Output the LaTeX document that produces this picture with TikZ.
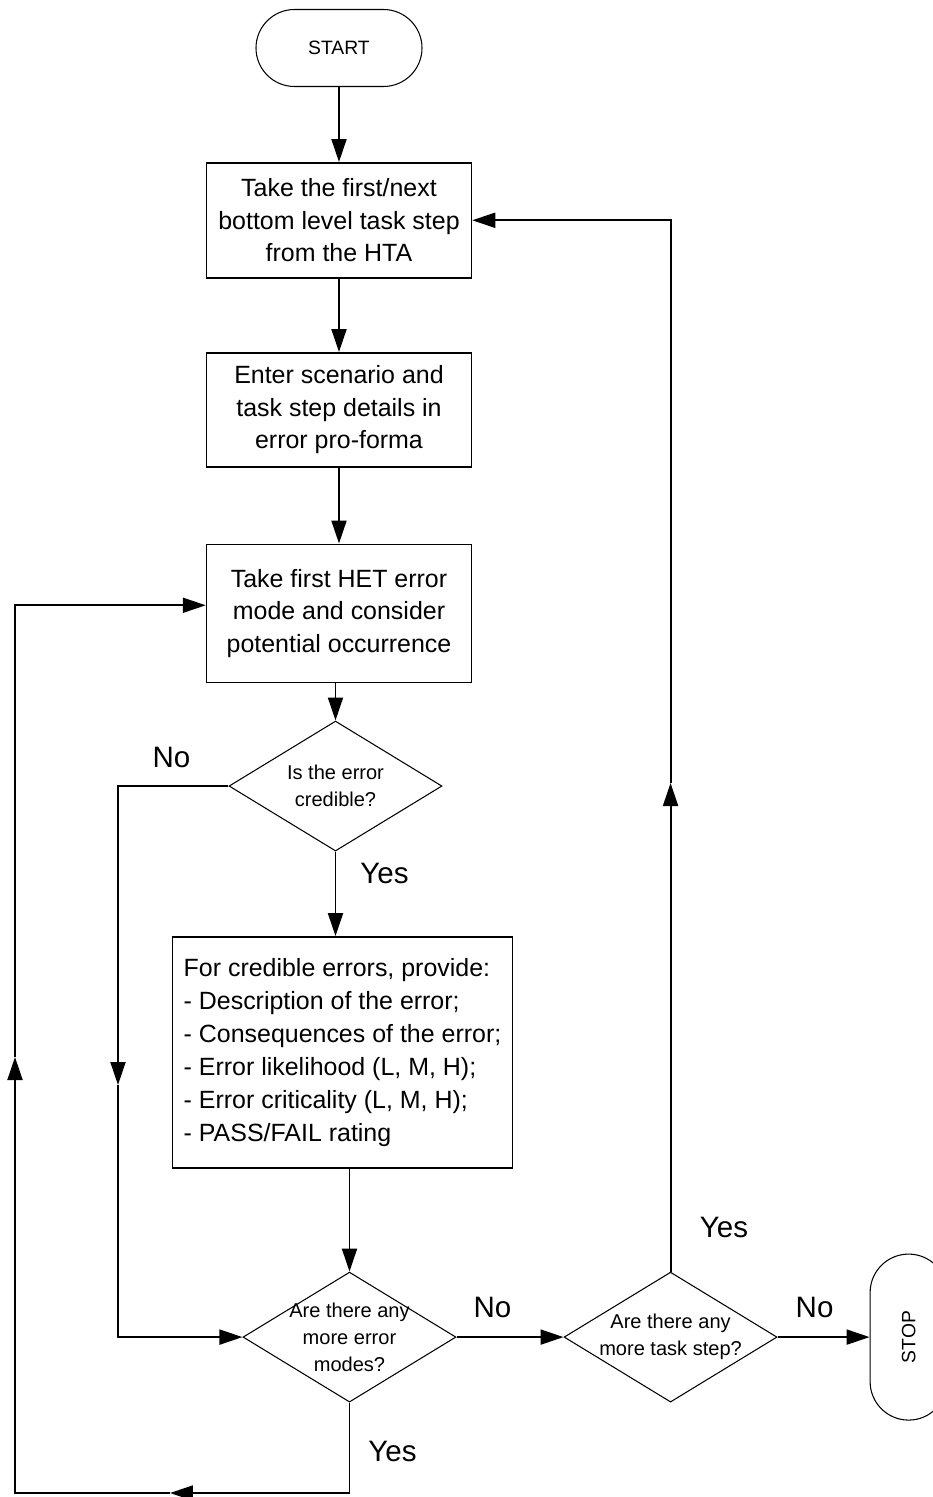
\documentclass[tikz,border=0pt]{standalone}
\usepackage{fontspec}
\setmainfont{Liberation Sans}
\usetikzlibrary{
  arrows.meta,
  positioning,
  shapes.geometric
}

\begin{document}
\begin{tikzpicture}[
    >={Triangle[length=0.46cm, width=0.3cm]},
    % Styles
    terminal/.style={
        rectangle, rounded corners=0.77cm,
        draw=black, line width=0.6pt,
        minimum width=3.32cm, minimum height=1.54cm,
        font=\fontsize{11}{13}\selectfont
    },
    process/.style={
        rectangle, draw=black, line width=0.85pt,
        minimum width=5.3cm, minimum height=#1,
        font=\fontsize{14.2}{18.5}\selectfont,
        align=center
    },
    process/.default=2.3cm,
    listbox/.style={
        rectangle, draw=black, line width=0.85pt,
        minimum width=6.8cm, minimum height=4.62cm,
        font=\fontsize{14.2}{18.8}\selectfont,
        align=left
    },
    decision/.style={
        diamond, draw=black, line width=0.6pt,
        minimum width=4.26cm, minimum height=2.6cm,
        inner sep=0pt
    },
    dtext/.style={
        font=\fontsize{11.4}{15.4}\selectfont,
        align=center, inner sep=0pt
    },
    answer/.style={font=\fontsize{16.8}{20}\selectfont, inner sep=0pt},
    connector/.style={->, line width=1.1pt}
]

\useasboundingbox (-6.78,0.96) rectangle (11.88,-28.98);

% ── START AND TASK STEP ──
\node[terminal] (start) {START};

\node[process, below=1.5cm of start] (taskstep) {Take the first/next\\bottom level task step\\from the HTA};

\node[process=2.28cm, below=1.47cm of taskstep] (scenario) {Enter scenario and\\task step details in\\error pro-forma};

\node[process=2.76cm, below=1.52cm of scenario] (errmode) {Take first HET error\\mode and consider\\potential occurrence};

\draw[connector] (start) -- (taskstep);
\draw[connector] (taskstep) -- (scenario);
\draw[connector] (scenario) -- (errmode);

% ── CREDIBLE ERROR CHECK ──
\node[decision, below=0.75cm of errmode, xshift=-0.07cm] (credible) {};
\node[dtext] (credibletxt) at (credible) {Is the error\\credible?};

\node[listbox, below=1.69cm of credible, xshift=0.14cm] (provide) {%
    For credible errors, provide:\\
    - Description of the error;\\
    - Consequences of the error;\\
    - Error likelihood (L, M, H);\\
    - Error criticality (L, M, H);\\
    - PASS/FAIL rating};

\draw[connector] (errmode.south -| credible.north) -- (credible.north);
\draw[connector] (credible.south) -- (credible.south |- provide.north);
\node[answer] (yes1) at ([xshift=0.98cm, yshift=-0.43cm]credible.south) {Yes};

% ── MORE ERROR MODES / TASK STEPS ──
\node[decision, below=2.06cm of provide, xshift=0.14cm] (moremodes) {};
\node[dtext] (moremodestxt) at (moremodes) {Are there any\\more error\\modes?};

\node[decision, right=2.14cm of moremodes] (moresteps) {};
\node[dtext] (morestepstxt) at (moresteps) {Are there any\\more task step?};

\node[terminal, rotate=90, anchor=north] (stop) at ([xshift=1.84cm]moresteps.east) {STOP};

\draw[connector] (provide.south -| moremodes.north) -- (moremodes.north);
\draw[connector] (moremodes.east) -- (moresteps.west);
\draw[connector] (moresteps.east) -- (stop.north);
\node[answer] (no2) at ([xshift=0.72cm, yshift=0.6cm]moremodes.east) {No};
\node[answer] (no3) at ([xshift=0.74cm, yshift=0.6cm]moresteps.east) {No};

% ── LOOPS ──
\coordinate (skipA) at (-4.42,-20.74);
\draw[connector] (credible.west) -| (skipA);
\draw[connector] (skipA) |- (moremodes.west);
\node[answer] (no1) at ([xshift=-1.14cm, yshift=0.57cm]credible.west) {No};

\coordinate (backA) at (-3.38,-28.9);
\coordinate (backB) at (-6.48,-20.18);
\draw[connector] (moremodes.south) |- (backA);
\draw[connector] (backA) -| (backB);
\draw[connector] (backB) |- ([yshift=0.16cm]errmode.west);
\node[answer] (yes2) at ([xshift=0.86cm, yshift=-0.98cm]moremodes.south) {Yes};

\coordinate (nextA) at (moresteps.north |- 0,-14.7);
\draw[connector] (moresteps.north) -- (nextA);
\draw[connector] (nextA) |- (taskstep.east);
\node[answer] (yes3) at ([xshift=1.07cm, yshift=0.88cm]moresteps.north) {Yes};

\end{tikzpicture}
\end{document}
